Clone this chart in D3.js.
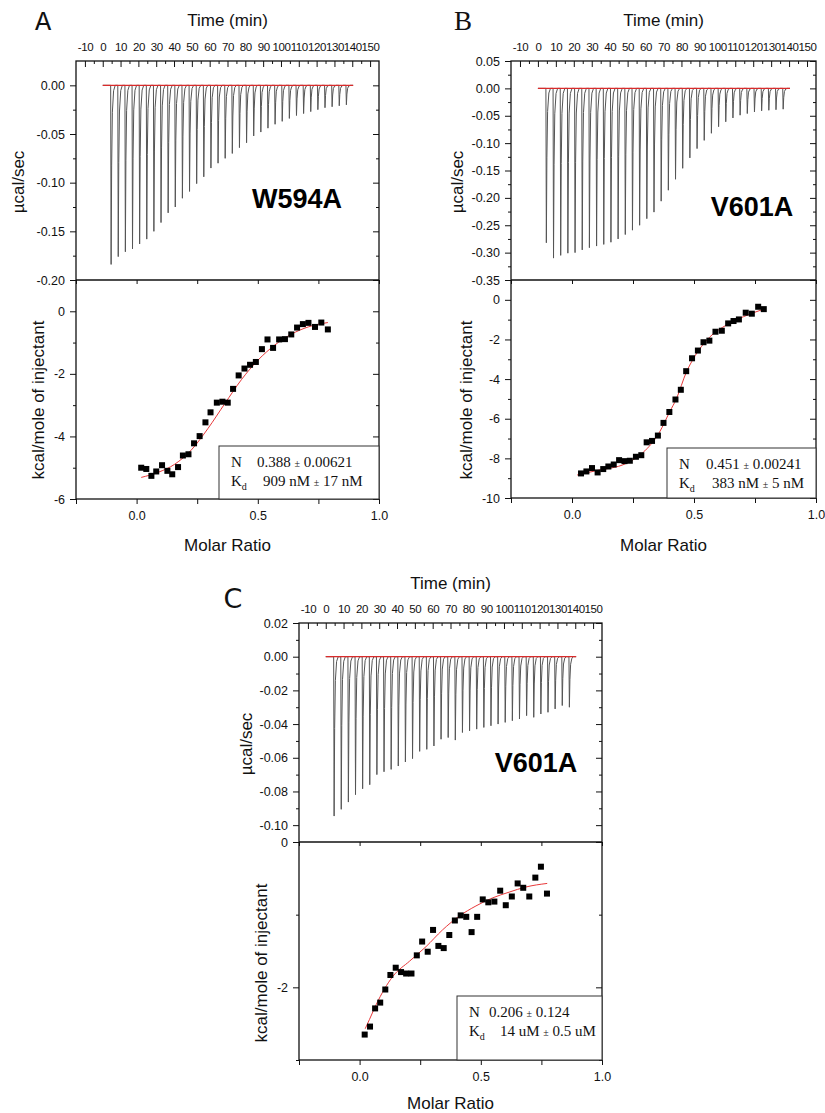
<!DOCTYPE html>
<html><head><meta charset="utf-8">
<script src="https://cdn.jsdelivr.net/npm/d3@7"></script>
<style>
body{margin:0;background:#fff}
svg text{font-family:"Liberation Sans",Arial,sans-serif}
</style>
</head><body>
<svg id="chart" width="825" height="1113"></svg>
<script>
// ---------- DATA ----------
const timeTicks = [-10,0,10,20,30,40,50,60,70,80,90,100,110,120,130,140,150];
const timeMinor = [-5,5,15,25,35,45,55,65,75,85,95,105,115,125,135,145];
const ratioTicks = [0,0.5,1.0];
const ratioMinor = [-0.25,0.25,0.75];

const injTimes = [4.5,8.5,12.5,16.5,20.5,24.5,28.5,32.5,36.5,40.5,44.5,48.5,52.5,56.5,60.5,64.5,68.5,72.5,76.5,80.5,84.5,88.5,92.5,96.5,100.5,104.5,108.5,112.5,116.5,120.5,124.5,128.5,132.5,136.5];
const baselineRange = [0,140.5];

// Panel A (W594A)
const aPeaks = [-0.184,-0.176,-0.171,-0.168,-0.163,-0.158,-0.150,-0.141,-0.131,-0.125,-0.116,-0.109,-0.101,-0.094,-0.085,-0.080,-0.075,-0.070,-0.064,-0.059,-0.052,-0.048,-0.044,-0.040,-0.037,-0.034,-0.031,-0.029,-0.027,-0.025,-0.023,-0.022,-0.021,-0.020];
const aRatio = [0.019,0.040,0.061,0.081,0.105,0.127,0.147,0.171,0.191,0.214,0.237,0.260,0.284,0.305,0.331,0.354,0.376,0.398,0.421,0.445,0.468,0.492,0.517,0.540,0.563,0.588,0.612,0.638,0.662,0.686,0.709,0.736,0.762,0.789];
const aHeat = [-5.00,-5.04,-5.26,-5.12,-4.92,-5.10,-5.21,-4.98,-4.61,-4.57,-4.22,-3.99,-3.55,-3.23,-2.92,-2.89,-2.92,-2.48,-2.05,-1.83,-1.71,-1.62,-1.21,-0.90,-1.17,-0.90,-0.89,-0.74,-0.52,-0.41,-0.37,-0.50,-0.36,-0.58];
const aFitRatio = [0.019,0.088,0.157,0.226,0.295,0.364,0.433,0.501,0.570,0.639,0.708,0.789];
const aFitHeat = [-5.31,-5.15,-4.89,-4.43,-3.74,-2.95,-2.18,-1.56,-1.08,-0.73,-0.50,-0.36];
const aTopTicks = [0,-0.05,-0.10,-0.15,-0.20];
const aTopMinor = [-0.025,-0.075,-0.125,-0.175];
const aBotTicks = [0,-2,-4,-6];
const aBotMinor = [-1,-3,-5];

// Panel B (V601A)
const bPeaks = [-0.282,-0.310,-0.305,-0.301,-0.300,-0.295,-0.291,-0.288,-0.285,-0.281,-0.275,-0.267,-0.259,-0.250,-0.238,-0.226,-0.206,-0.186,-0.166,-0.146,-0.127,-0.110,-0.095,-0.082,-0.070,-0.061,-0.054,-0.049,-0.046,-0.043,-0.041,-0.040,-0.039,-0.038];
const bRatio = [0.037,0.059,0.082,0.105,0.128,0.149,0.171,0.193,0.215,0.237,0.262,0.284,0.306,0.328,0.352,0.375,0.399,0.424,0.446,0.468,0.492,0.516,0.539,0.563,0.588,0.614,0.640,0.662,0.684,0.712,0.737,0.763,0.786];
const bHeat = [-8.76,-8.66,-8.49,-8.71,-8.54,-8.41,-8.31,-8.09,-8.14,-8.12,-7.92,-7.84,-7.19,-7.12,-6.85,-6.21,-5.66,-5.03,-4.54,-3.60,-2.95,-2.56,-2.14,-2.06,-1.61,-1.56,-1.19,-1.07,-0.99,-0.65,-0.70,-0.35,-0.47];
const bFitRatio = [0.021,0.100,0.221,0.290,0.359,0.400,0.428,0.469,0.497,0.566,0.635,0.703,0.786];
const bFitHeat = [-8.84,-8.62,-8.26,-7.72,-6.67,-5.66,-4.99,-3.64,-2.98,-1.86,-1.26,-0.85,-0.47];
const bTopTicks = [0.05,0,-0.05,-0.10,-0.15,-0.20,-0.25,-0.30,-0.35];
const bTopMinor = [0.025,-0.025,-0.075,-0.125,-0.175,-0.225,-0.275,-0.325];
const bBotTicks = [0,-2,-4,-6,-8,-10];
const bBotMinor = [-1,-3,-5,-7,-9];

// Panel C (V601A)
const cPeaks = [-0.0946,-0.0906,-0.0863,-0.0819,-0.0784,-0.0760,-0.0700,-0.0683,-0.0669,-0.0649,-0.0625,-0.0605,-0.0562,-0.0550,-0.0530,-0.0490,-0.0480,-0.0495,-0.0450,-0.0440,-0.0430,-0.0420,-0.0410,-0.0400,-0.0390,-0.0380,-0.0370,-0.0350,-0.0360,-0.0340,-0.0330,-0.0310,-0.0290,-0.0300];
const cRatio = [0.021,0.043,0.064,0.085,0.106,0.127,0.149,0.171,0.192,0.214,0.236,0.258,0.281,0.303,0.325,0.347,0.370,0.393,0.417,0.440,0.462,0.485,0.508,0.531,0.556,0.580,0.603,0.628,0.652,0.675,0.700,0.725,0.748,0.773];
const cHeat = [-2.65,-2.54,-2.29,-2.21,-2.03,-1.83,-1.73,-1.79,-1.81,-1.81,-1.56,-1.37,-1.51,-1.21,-1.43,-1.46,-1.28,-1.08,-1.01,-1.03,-1.24,-1.03,-0.79,-0.83,-0.82,-0.67,-0.87,-0.75,-0.57,-0.63,-0.75,-0.49,-0.34,-0.71];
const cFitRatio = [0.023,0.041,0.068,0.103,0.137,0.206,0.274,0.342,0.411,0.480,0.548,0.617,0.685,0.774];
const cFitHeat = [-2.57,-2.44,-2.24,-2.02,-1.85,-1.64,-1.44,-1.21,-1.02,-0.88,-0.77,-0.69,-0.62,-0.57];
const cTopTicks = [0.02,0,-0.02,-0.04,-0.06,-0.08,-0.10];
const cTopMinor = [0.01,-0.01,-0.03,-0.05,-0.07,-0.09];
const cBotTicks = [0,-2];
const cBotMinor = [-1,-3];

// ---------- LAYOUT ----------
const panels = [
  {letter:'A', letterFont:'"Liberation Mono",monospace', letterX:43, letterY:30,
   x0:76, x1:379, yT:61, yM:280, yB:499,
   topDom:[-0.20,0.025], topTicks:aTopTicks, topMinor:aTopMinor,
   botDom:[-6,1], botTicks:aBotTicks, botMinor:aBotMinor,
   peaks:aPeaks, ratio:aRatio, heat:aHeat, fitR:aFitRatio, fitH:aFitHeat,
   name:'W594A', nameX:297, nameY:208,
   timeTitleY:26, ratioTitleY:551, muX:18, muY:182, kcalX:38, kcalY:400,
   leg:{x:219, y:446, nV:'0.388', nE:'0.00621', kV:'909 nM', kE:'17 nM', nX:257, kX:263}},
  {letter:'B', letterFont:'"Liberation Serif",serif', letterX:463, letterY:30,
   x0:511, x1:816, yT:61, yM:280, yB:498,
   topDom:[-0.35,0.05], topTicks:bTopTicks, topMinor:bTopMinor,
   botDom:[-10,1], botTicks:bBotTicks, botMinor:bBotMinor,
   peaks:bPeaks, ratio:bRatio, heat:bHeat, fitR:bFitRatio, fitH:bFitHeat,
   name:'V601A', nameX:752, nameY:216,
   timeTitleY:26, ratioTitleY:551, muX:457, muY:182, kcalX:466, kcalY:400,
   leg:{x:667, y:448, nV:'0.451', nE:'0.00241', kV:'383 nM', kE:'5 nM', nX:706, kX:712}},
  {letter:'C', letterFont:'"DejaVu Sans",sans-serif', letterX:233, letterY:608,
   x0:299, x1:602, yT:623, yM:842, yB:1060,
   topDom:[-0.11,0.02], topTicks:cTopTicks, topMinor:cTopMinor,
   botDom:[-3,0], botTicks:cBotTicks, botMinor:cBotMinor,
   peaks:cPeaks, ratio:cRatio, heat:cHeat, fitR:cFitRatio, fitH:cFitHeat,
   name:'V601A', nameX:536, nameY:772,
   timeTitleY:589, ratioTitleY:1109, muX:246, muY:744, kcalX:261, kcalY:963,
   leg:{x:457, y:996, nV:'0.206', nE:'0.124', kV:'14 uM', kE:'0.5 uM', nX:489, kX:500}}
];

const svg = d3.select('#chart');
const fmt2 = d => (d < 0 ? '-' : '') + Math.abs(d).toFixed(2);
const fmt1 = d => (d < 0 ? '-' : '') + Math.abs(d).toFixed(1);
const fmt0 = d => (d < 0 ? '-' : '') + Math.abs(d).toFixed(0);
const fmtT = d => (d < 0 ? '-' : '') + Math.abs(d);

function styleAxis(sel){
  sel.select('.domain').remove();
  sel.selectAll('line').attr('stroke','#111').attr('stroke-width',1);
  sel.selectAll('text').attr('fill','#111').style('font-size','12.5px')
     .style('font-family','"Liberation Sans",Arial,sans-serif');
}
function addAxis(g, gen, tx, ty){
  return g.append('g').attr('transform',`translate(${tx},${ty})`).call(gen).call(styleAxis);
}

panels.forEach(p => {
  const g = svg.append('g');
  const xTime = d3.scaleLinear().domain([-15,155]).range([p.x0,p.x1]);
  const xRatio = d3.scaleLinear().domain([-0.25,1.0]).range([p.x0,p.x1]);
  const yTop = d3.scaleLinear().domain(p.topDom).range([p.yM,p.yT]);
  const yBot = d3.scaleLinear().domain(p.botDom).range([p.yB,p.yM]);

  // ---- thermogram ----
  const pts = [[baselineRange[0],0]];
  injTimes.forEach((t,i) => {
    const pk = p.peaks[i];
    pts.push([t-0.05,0],[t+0.2,pk],[t+0.5,pk*0.45],[t+0.9,pk*0.15],[t+1.6,pk*0.03],[t+2.5,0]);
  });
  pts.push([baselineRange[1],0]);
  const line = d3.line().x(d=>xTime(d[0])).y(d=>yTop(d[1]));
  g.append('path').attr('d',line(pts)).attr('fill','none').attr('stroke','#555').attr('stroke-width',1);
  g.append('path').attr('d',line(baselineRange.map(t=>[t,0])))
    .attr('fill','none').attr('stroke','#d92b2b').attr('stroke-width',1.2);

  // ---- bottom panel: fit + points ----
  const fitLine = d3.line().curve(d3.curveMonotoneX)
     .x((d,i)=>xRatio(p.fitR[i])).y(d=>yBot(d));
  g.append('path').attr('d',fitLine(p.fitH)).attr('fill','none')
     .attr('stroke','#e8393a').attr('stroke-width',1);
  g.selectAll('rect.pt').data(p.heat).enter().append('rect')
     .attr('x',(d,i)=>xRatio(p.ratio[i])-3).attr('y',d=>yBot(d)-3)
     .attr('width',6).attr('height',6).attr('fill','#000');

  // ---- axes ----
  // time axis (top, inward ticks)
  addAxis(g, d3.axisTop(xTime).tickValues(timeTicks).tickSize(-6).tickPadding(10).tickFormat(fmtT), 0, p.yT)
    .selectAll('text').style('font-size','11.5px').style('letter-spacing','-0.4px');
  addAxis(g, d3.axisTop(xTime).tickValues(timeMinor).tickSize(-3).tickFormat(''), 0, p.yT);
  // top panel left (outward) / right (inward)
  addAxis(g, d3.axisLeft(yTop).tickValues(p.topTicks).tickSize(6).tickPadding(5).tickFormat(fmt2), p.x0, 0);
  addAxis(g, d3.axisLeft(yTop).tickValues(p.topMinor).tickSize(3).tickFormat(''), p.x0, 0);
  addAxis(g, d3.axisRight(yTop).tickValues(p.topTicks).tickSize(-6).tickFormat(''), p.x1, 0);
  addAxis(g, d3.axisRight(yTop).tickValues(p.topMinor).tickSize(-3).tickFormat(''), p.x1, 0);
  // bottom panel left/right
  addAxis(g, d3.axisLeft(yBot).tickValues(p.botTicks).tickSize(6).tickPadding(5).tickFormat(fmt0), p.x0, 0);
  addAxis(g, d3.axisLeft(yBot).tickValues(p.botMinor).tickSize(3).tickFormat(''), p.x0, 0);
  addAxis(g, d3.axisRight(yBot).tickValues(p.botTicks).tickSize(-6).tickFormat(''), p.x1, 0);
  addAxis(g, d3.axisRight(yBot).tickValues(p.botMinor).tickSize(-3).tickFormat(''), p.x1, 0);
  // molar ratio axis bottom (outward) and divider (inward)
  addAxis(g, d3.axisBottom(xRatio).tickValues(ratioTicks).tickSize(5).tickPadding(7).tickFormat(fmt1), 0, p.yB);
  addAxis(g, d3.axisBottom(xRatio).tickValues(ratioMinor).tickSize(5).tickFormat(''), 0, p.yB);
  addAxis(g, d3.axisBottom(xRatio).tickValues(ratioTicks.concat(ratioMinor)).tickSize(4).tickFormat(''), 0, p.yM);

  // ---- frame ----
  g.append('rect').attr('x',p.x0).attr('y',p.yT).attr('width',p.x1-p.x0).attr('height',p.yB-p.yT)
    .attr('fill','none').attr('stroke','#111').attr('stroke-width',1.3);
  g.append('line').attr('x1',p.x0).attr('x2',p.x1).attr('y1',p.yM).attr('y2',p.yM)
    .attr('stroke','#111').attr('stroke-width',1.3);

  // ---- titles ----
  g.append('text').attr('x',(p.x0+p.x1)/2).attr('y',p.timeTitleY).attr('text-anchor','middle')
    .style('font-size','17px').attr('fill','#111').text('Time (min)');
  g.append('text').attr('x',(p.x0+p.x1)/2).attr('y',p.ratioTitleY).attr('text-anchor','middle')
    .style('font-size','17px').attr('fill','#111').text('Molar Ratio');
  g.append('text').attr('transform',`translate(${p.muX+6},${p.muY}) rotate(-90)`).attr('text-anchor','middle')
    .style('font-size','17px').attr('fill','#111').text('µcal/sec');
  g.append('text').attr('transform',`translate(${p.kcalX+6},${p.kcalY}) rotate(-90)`).attr('text-anchor','middle')
    .style('font-size','17px').attr('fill','#111').text('kcal/mole of injectant');
  g.append('text').attr('x',p.nameX).attr('y',p.nameY).attr('text-anchor','middle')
    .style('font-size','27px').style('font-weight','bold').attr('fill','#000').text(p.name);
  g.append('text').attr('x',p.letterX).attr('y',p.letterY).attr('text-anchor','middle')
    .style('font-size','27px').style('font-family',p.letterFont).attr('fill','#111').text(p.letter);

  // ---- legend box ----
  const L = p.leg;
  g.append('rect').attr('x',L.x).attr('y',L.y).attr('width',p.x1-L.x).attr('height',p.yB-L.y)
    .attr('fill','#fff').attr('stroke','#333').attr('stroke-width',1);
  const serif = '"Liberation Serif","Times New Roman",serif';
  const r1 = g.append('text').attr('y',L.y+21).style('font-family',serif).style('font-size','15px').attr('fill','#111');
  r1.append('tspan').attr('x',L.x+12).text('N');
  r1.append('tspan').attr('x',L.nX).text(L.nV + ' ');
  r1.append('tspan').style('font-size','10px').text('±');
  r1.append('tspan').text(' ' + L.nE);
  const r2 = g.append('text').attr('y',L.y+40).style('font-family',serif).style('font-size','15px').attr('fill','#111');
  r2.append('tspan').attr('x',L.x+12).text('K');
  r2.append('tspan').attr('dy',4).style('font-size','10px').text('d');
  r2.append('tspan').attr('x',L.kX).attr('dy',-4).text(L.kV + ' ');
  r2.append('tspan').style('font-size','10px').text('±');
  r2.append('tspan').text(' ' + L.kE);
});
</script>
</body></html>
